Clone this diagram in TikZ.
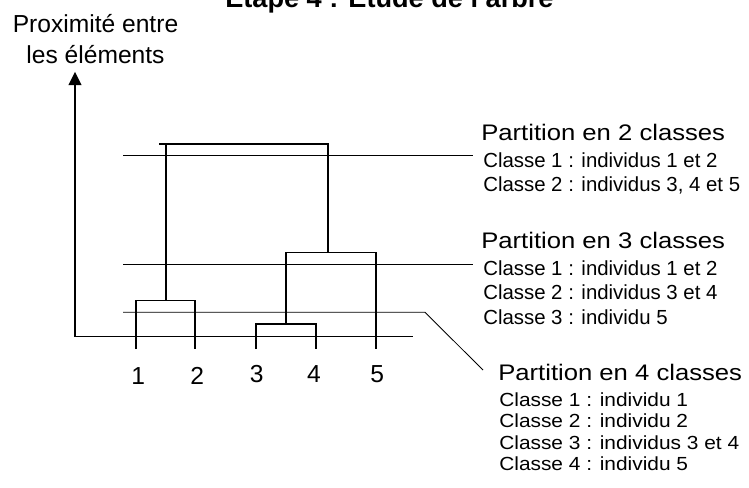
\documentclass[tikz,border=0pt]{standalone}
\usepackage{fontspec}
\setmainfont{Liberation Sans}
\newfontfamily\partfont{Liberation Sans}[FakeStretch=1.14]
\newfontfamily\clswide{Liberation Sans}[FakeStretch=1.1]
\usepackage{tikz}
\usetikzlibrary{arrows.meta}

\begin{document}
\begin{tikzpicture}[x=0.025cm,y=-0.025cm,>={Triangle[width=9pt,length=9.5pt]},
  lbl/.style={anchor=base west,inner sep=0pt},
  part/.style={lbl,font=\partfont\fontsize{16}{19}\selectfont},
  cls/.style={lbl,font=\fontsize{14.5}{17}\selectfont},
  clssm/.style={lbl,font=\clswide\fontsize{13.5}{16}\selectfont},
  leaf/.style={anchor=base,inner sep=0pt,font=\fontsize{17.5}{21}\selectfont},
  tree/.style={line width=0.8pt},
  cut/.style={line width=0.6pt}]
  \useasboundingbox (0,0) rectangle (749,487);
  % titles
  \node[lbl,font=\bfseries\fontsize{19.3}{22}\selectfont] (title) at (225,7) {Étape 4 : Étude de l'arbre};
  \node[anchor=base,inner sep=0pt,font=\fontsize{17.5}{21}\selectfont] (yl1) at (95.5,32.7) {Proximité entre};
  \node[anchor=base,inner sep=0pt,font=\fontsize{17.5}{21}\selectfont] (yl2) at (95.5,63.3) {les éléments};
  % axes
  \coordinate (o) at (75,336.7);
  \coordinate (ytop) at (75,71.7);
  \coordinate (xend) at (413,336.7);
  \draw[line width=1.4pt,->] (o) -- (ytop);
  \draw[line width=0.9pt] (o) -- (xend);
  % leaves
  \foreach \i/\x in {1/136,2/195,3/256,4/316,5/376}
    \coordinate (f\i) at (\x,349);
  \foreach \i/\x/\y in {1/138.3/384.5,2/197.3/384.5,3/256.7/382.3,4/314/382.3,5/377.3/382.3}
    \node[leaf] (n\i) at (\x,\y) {\i};
  % dendrogram
  \coordinate (m12) at (166,300.7);
  \coordinate (m34) at (286,324);
  \coordinate (m345) at (328,252.3);
  \coordinate (tl) at (159,144);
  \coordinate (mtop) at (328,144);
  \draw[tree] (f1) |- (m12) -| (f2);
  \draw[tree] (f3) |- (m34) -| (f4);
  \draw[tree] (m34) |- (m345) -| (f5);
  \draw[tree] (m12) -- (m12 |- tl);
  \draw[tree] (tl) -- (mtop) -- (m345);
  % cuts
  \coordinate (c2a) at (123,155);
  \coordinate (c2b) at (473,155);
  \coordinate (c3a) at (123,264.3);
  \coordinate (c3b) at (473,264.3);
  \coordinate (c4a) at (123,312.3);
  \coordinate (c4b) at (425,312.3);
  \coordinate (c4c) at (483,370);
  \draw[cut] (c2a) -- (c2b);
  \draw[cut] (c3a) -- (c3b);
  \draw[cut] (c4a) -- (c4b) -- (c4c);
  % partitions
  \node[part] (p2) at (481,140) {Partition en 2 classes};
  \node[cls] (p2a) at (483,167) {Classe 1 : individus 1 et 2};
  \node[cls] (p2b) at (483,191.5) {Classe 2 : individus 3, 4 et 5};
  \node[part] (p3) at (481,248.5) {Partition en 3 classes};
  \node[cls] (p3a) at (483,275) {Classe 1 : individus 1 et 2};
  \node[cls] (p3b) at (483,299.5) {Classe 2 : individus 3 et 4};
  \node[cls] (p3c) at (483,324) {Classe 3 : individu 5};
  \node[part] (p4) at (498,380) {Partition en 4 classes};
  \node[clssm] (p4a) at (499,406) {Classe 1 : individu 1};
  \node[clssm] (p4b) at (499,427.7) {Classe 2 : individu 2};
  \node[clssm] (p4c) at (499,449.3) {Classe 3 : individus 3 et 4};
  \node[clssm] (p4d) at (499,470.6) {Classe 4 : individu 5};
\end{tikzpicture}
\end{document}
